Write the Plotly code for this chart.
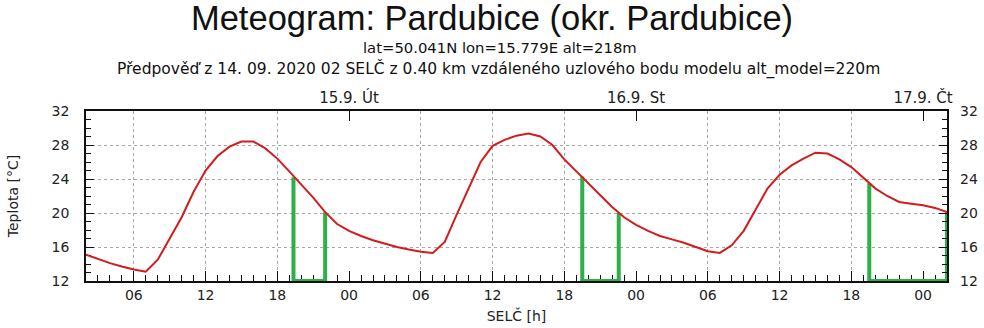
import pandas as pd
import plotly.graph_objects as go

# ---------------- data ----------------
start_time = "2020-09-14 02:00"
temperature = [
    15.1, 14.6, 14.1, 13.7, 13.35, 13.1, 14.5, 17.0, 19.5, 22.5,   # 02-11 (14.9.)
    25.0, 26.7, 27.8, 28.4, 28.4, 27.6, 26.4, 24.9, 23.4, 21.8,    # 12-21
    20.1, 18.7,                                                     # 22-23
    17.9, 17.3, 16.8, 16.4, 16.0, 15.7, 15.45, 15.3, 16.6, 19.8,   # 00-09 (15.9.)
    22.9, 26.0, 27.9, 28.6, 29.1, 29.35, 29.0, 28.0, 26.3, 24.9,   # 10-19
    23.5, 22.1, 20.7, 19.5,                                         # 20-23
    18.6, 17.9, 17.3, 16.9, 16.5, 16.0, 15.5, 15.3, 16.2, 17.9,    # 00-09 (16.9.)
    20.4, 22.9, 24.5, 25.6, 26.4, 27.1, 27.0, 26.3, 25.4, 24.1,    # 10-19
    22.9, 22.0, 21.3, 21.1,                                         # 20-23
    20.9, 20.6, 20.1,                                               # 00-02 (17.9.)
]
times = pd.date_range(start_time, periods=len(temperature), freq="h")

# green evening markers: start/end time and temperature at each end
green_start = ["2020-09-14 19:21", "2020-09-15 19:30", "2020-09-16 19:30"]
green_end = ["2020-09-14 22:00", "2020-09-15 22:33", "2020-09-17 02:00"]
green_start_temp = [24.2, 24.3, 23.5]
green_end_temp = [20.1, 20.0, 20.1]
green_base = 12

day_midnights = ["2020-09-15 00:00", "2020-09-16 00:00", "2020-09-17 00:00"]
day_labels = ["15.9. Út", "16.9. St", "17.9. Čt"]
grid_hours = [6, 12, 18]
grid_days = ["2020-09-14", "2020-09-15", "2020-09-16"]

y_range = [12, 32]
x_range = [str(times[0]), str(times[-1])]

title_text = "Meteogram: Pardubice (okr. Pardubice)"
sub1 = "lat=50.041N lon=15.779E alt=218m"
sub2 = "Předpověď z 14. 09. 2020 02 SELČ z 0.40 km vzdáleného uzlového bodu modelu alt_model=220m"

# ---------------- figure ----------------
gx, gy = [], []
for s, e, ts, te in zip(green_start, green_end, green_start_temp, green_end_temp):
    gx += [s, s, e, e, None]
    gy += [ts, green_base, green_base, te, None]

grid_times = [pd.Timestamp(d) + pd.Timedelta(hours=h) for d in grid_days for h in grid_hours]

fig = go.Figure()
fig.add_trace(go.Scatter(x=gx, y=gy, mode="lines", cliponaxis=False,
                         line=dict(color="#2eaf48", width=4), hoverinfo="skip",
                         showlegend=False))
fig.add_trace(go.Scatter(x=times, y=temperature, mode="lines",
                         line=dict(color="#d41c1c", width=2), showlegend=False))
# invisible helpers so overlay axes get drawn
fig.add_trace(go.Scatter(x=[times[0]], y=[None], xaxis="x2", yaxis="y2",
                         mode="lines", showlegend=False, hoverinfo="skip"))
fig.add_trace(go.Scatter(x=[times[0]], y=[None], xaxis="x3", yaxis="y",
                         mode="lines", showlegend=False, hoverinfo="skip"))

tickfont = dict(family="DejaVu Sans", size=14, color="#222")

fig.update_layout(
    width=984, height=328,
    margin=dict(l=86, r=37, t=111, b=47),
    paper_bgcolor="white", plot_bgcolor="white",
    font=dict(family="DejaVu Sans", color="#222"),
    title=dict(text=title_text, x=0.5, xref="container", xanchor="center",
               y=1 - 18 / 328, yref="container", yanchor="middle",
               font=dict(family="Liberation Sans", size=34.5, color="#111")),
    xaxis=dict(type="date", range=x_range, tickformat="%H",
               tick0="2020-09-14 00:00", dtick=6 * 3600000,
               ticks="inside", ticklen=10, tickcolor="#111", tickwidth=1,
               minor=dict(dtick=3600000, ticks="inside", ticklen=6,
                          tickcolor="#111", showgrid=False),
               showgrid=False, showline=True, mirror=True,
               linecolor="#111", linewidth=1.5, tickfont=tickfont,
               layer="below traces", automargin=False,
               title=dict(text="SELČ [h]", font=dict(family="DejaVu Sans", size=14),
                          standoff=10),
               zeroline=False),
    xaxis2=dict(type="date", overlaying="x", side="top", matches="x",
                tickmode="array", tickvals=day_midnights, ticktext=day_labels,
                ticks="inside", ticklen=10, tickcolor="#111", automargin=False,
                showgrid=False, showline=False, tickfont=dict(family="DejaVu Sans", size=15, color="#222"),
                ticklabelstandoff=4),
    xaxis3=dict(type="date", overlaying="x", matches="x", automargin=False,
                tickmode="array", tickvals=grid_times, showticklabels=False,
                ticks="", showgrid=True, griddash="dot", gridcolor="#a8a8a8",
                gridwidth=1, showline=False),
    yaxis=dict(range=y_range, dtick=4, ticks="inside", ticklen=8,
               tickcolor="#111", automargin=False,
               minor=dict(dtick=1, ticks="inside", ticklen=5, tickcolor="#111",
                          showgrid=False),
               showgrid=True, griddash="dot", gridcolor="#a8a8a8",
               showline=True, mirror=True, linecolor="#111", linewidth=1.5,
               layer="below traces",
               tickfont=tickfont, ticklabelstandoff=12, zeroline=False,
               title=dict(text="Teplota [°C]", font=dict(family="DejaVu Sans", size=14),
                          standoff=30)),
    yaxis2=dict(overlaying="y", side="right", matches="y", dtick=4,
                ticks="inside", ticklen=8, tickcolor="#111", automargin=False,
                minor=dict(dtick=1, ticks="inside", ticklen=5, tickcolor="#111",
                           showgrid=False),
                showgrid=False, showline=False, tickfont=tickfont,
                ticklabelstandoff=12, zeroline=False),
    annotations=[
        dict(text=sub1, xref="paper", yref="paper", x=(500 - 86) / 861,
             y=(281 - 47) / 170, xanchor="center", yanchor="middle",
             showarrow=False, font=dict(family="DejaVu Sans", size=14.8, color="#111")),
        dict(text=sub2, xref="paper", yref="paper", x=(498 - 86) / 861,
             y=(281 - 69) / 170, xanchor="center", yanchor="middle",
             showarrow=False, font=dict(family="DejaVu Sans", size=15.5, color="#111")),
    ],
)

fig.write_html("out.html")
